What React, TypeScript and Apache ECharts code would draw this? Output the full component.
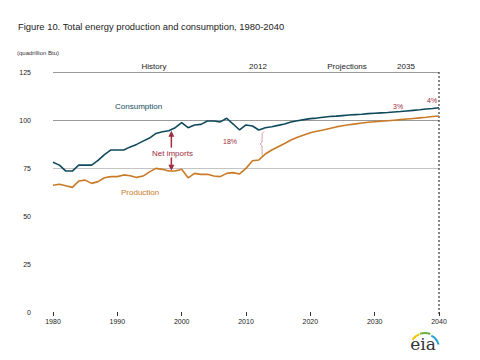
import React, { useEffect, useRef } from "react";
import * as echarts from "echarts";

const histYears = [1980,1981,1982,1983,1984,1985,1986,1987,1988,1989,1990,1991,1992,1993,1994,1995,1996,1997,1998,1999,2000,2001,2002,2003,2004,2005,2006,2007,2008,2009,2010,2011,2012];
const projYears = [2013,2014,2015,2016,2017,2018,2019,2020,2021,2022,2023,2024,2025,2026,2027,2028,2029,2030,2031,2032,2033,2034,2035,2036,2037,2038,2039,2040];

const consumptionHist = [78.0,76.5,73.4,73.4,76.5,76.5,76.5,79.0,82.0,84.4,84.4,84.4,86.0,87.3,89.0,90.6,93.0,93.9,94.4,96.0,98.6,96.0,97.4,97.7,99.5,99.5,99.0,100.9,97.9,94.8,97.4,96.9,94.8];
const consumptionProj = [96.0,96.5,97.2,97.9,99.0,99.6,100.2,100.7,101.0,101.4,101.8,102.0,102.3,102.6,102.8,103.0,103.3,103.5,103.7,103.9,104.2,104.4,104.7,105.0,105.3,105.7,106.0,106.4];

const productionHist = [66.0,66.5,65.8,64.9,68.2,68.7,67.0,67.9,69.9,70.5,70.5,71.4,71.0,70.1,70.8,73.0,74.8,74.3,73.4,73.4,74.3,69.9,72.2,71.7,71.7,70.8,70.5,72.2,72.6,71.9,74.8,78.8,79.2];
const productionProj = [82.3,84.4,86.1,87.8,89.6,91.0,92.2,93.4,94.1,94.8,95.6,96.4,97.0,97.5,98.0,98.4,98.8,99.1,99.4,99.6,99.9,100.2,100.5,100.8,101.1,101.4,101.8,102.1];

const yTicks = [0, 25, 50, 75, 100, 125];
const xTicks = [1980, 1990, 2000, 2010, 2020, 2030, 2040];

const FONT = "Liberation Sans, Arial, sans-serif";
const CONS_COLOR = "#0f4a5c";
const PROD_COLOR = "#c97a26";
const RED = "#a02c40";

export default function App() {
  const ref = useRef<HTMLDivElement>(null);

  useEffect(() => {
    if (!ref.current) return;
    document.body.style.margin = "0";
    const chart = echarts.init(ref.current, null, { renderer: "svg" });
    const years = histYears.concat(projYears);
    const cons = consumptionHist.concat(consumptionProj);
    const prod = productionHist.concat(productionProj);

    chart.setOption({
      animation: false,
      grid: { left: 53, right: 41, top: 72, bottom: 48 },
      xAxis: {
        type: "value",
        min: xTicks[0],
        max: xTicks[xTicks.length - 1],
        interval: 10,
        axisLine: {
          show: true,
          lineStyle: {
            width: 1.5,
            color: new echarts.graphic.LinearGradient(0, 0, 1, 0, [
              { offset: 0, color: "#333" },
              { offset: 0.5, color: "#999" },
              { offset: 1, color: "#f0f0f0" },
            ]),
          },
        },
        axisTick: { show: true, length: 4, lineStyle: { color: "#333" } },
        axisLabel: {
          color: "#222",
          fontSize: 7,
          fontFamily: FONT,
          margin: 6,
          formatter: (v: number) => String(v),
        },
        splitLine: { show: false },
      },
      yAxis: {
        type: "value",
        min: yTicks[0],
        max: yTicks[yTicks.length - 1],
        interval: 25,
        axisLine: { show: false },
        axisTick: { show: false },
        axisLabel: { color: "#222", fontSize: 7, fontFamily: FONT, margin: 22 },
        splitLine: {
          show: true,
          lineStyle: {
            width: 1,
            color: ["rgba(0,0,0,0)", "rgba(0,0,0,0)", "rgba(0,0,0,0)", "#c4c4c4", "#9a9a9a", "#9a9a9a"],
          },
        },
      },
      series: [
        {
          name: "Production",
          type: "line",
          data: years.map((y, i) => [y, prod[i]]),
          showSymbol: false,
          lineStyle: { color: PROD_COLOR, width: 1.6 },
          z: 3,
        },
        {
          name: "Consumption",
          type: "line",
          data: years.map((y, i) => [y, cons[i]]),
          showSymbol: false,
          lineStyle: { color: CONS_COLOR, width: 1.6 },
          z: 4,
        },
      ],
    });

    const px = (x: number, y: number) => chart.convertToPixel({ gridIndex: 0 }, [x, y]) as number[];
    const [x2040, yTop] = px(2040, 125);
    const [, y0] = px(2040, 0);
    const arrowX = px(1998.4, 0)[0];
    const aTop = px(1998.4, 94.4)[1];
    const aTopEnd = px(1998.4, 85.6)[1];
    const aBotStart = px(1998.4, 80.5)[1];
    const aBot = px(1998.4, 73.6)[1];
    const bx = px(2012.5, 0)[0];
    const b1 = px(2012.5, 94.0)[1];
    const bm = px(2012.5, 87.5)[1];
    const b2 = px(2012.5, 80.8)[1];

    const txt = (x: number, y: number, text: string, color: string, size: number, align = "left") => ({
      type: "text",
      x,
      y,
      style: {
        text,
        fill: color,
        fontSize: size,
        fontFamily: FONT,
        align,
        verticalAlign: "middle",
      },
    });

    chart.setOption({
      graphic: [
        txt(18, 26, "Figure 10. Total energy production and consumption, 1980-2040", "#222", 9.4),
        txt(17, 53, "(quadrillion Btu)", "#333", 6),
        txt(154, 66, "History", "#222", 8, "center"),
        txt(258, 66, "2012", "#222", 8, "center"),
        txt(347, 66, "Projections", "#222", 8, "center"),
        txt(406, 66, "2035", "#222", 8, "center"),
        txt(115, 106, "Consumption", CONS_COLOR, 8),
        txt(121, 192, "Production", PROD_COLOR, 8),
        txt(152, 153, "Net imports", RED, 8),
        txt(223, 141, "18%", RED, 7),
        txt(393, 106, "3%", RED, 7),
        txt(427, 100, "4%", RED, 7),
        {
          type: "line",
          shape: { x1: x2040, y1: yTop, x2: x2040, y2: y0 + 3 },
          style: { stroke: "#111", lineWidth: 1, lineDash: [2, 2] },
        },
        {
          type: "line",
          shape: { x1: arrowX, y1: aTop + 4, x2: arrowX, y2: aTopEnd },
          style: { stroke: RED, lineWidth: 1.5 },
        },
        {
          type: "polygon",
          shape: { points: [[arrowX, aTop], [arrowX - 3, aTop + 6], [arrowX + 3, aTop + 6]] },
          style: { fill: RED },
        },
        {
          type: "line",
          shape: { x1: arrowX, y1: aBotStart, x2: arrowX, y2: aBot - 4 },
          style: { stroke: RED, lineWidth: 1.5 },
        },
        {
          type: "polygon",
          shape: { points: [[arrowX, aBot], [arrowX - 3, aBot - 6], [arrowX + 3, aBot - 6]] },
          style: { fill: RED },
        },
        {
          type: "polyline",
          shape: {
            points: [
              [bx + 2, b1], [bx, b1 + 2], [bx, bm - 2], [bx - 2, bm], [bx, bm + 2], [bx, b2 - 2], [bx + 2, b2],
            ],
          },
          style: { stroke: "#d6a2ac", lineWidth: 1, fill: "none" },
        },
        {
          type: "text",
          x: 423,
          y: 344,
          style: {
            text: "eia",
            fill: "#333",
            fontSize: 17,
            fontFamily: "DejaVu Serif, Liberation Serif, serif",
            align: "center",
            verticalAlign: "middle",
          },
        },
        {
          type: "arc",
          shape: { cx: 425, cy: 348, r: 15, startAngle: -2.55, endAngle: -1.95 },
          style: { stroke: "#f2c500", lineWidth: 2, fill: "none" },
        },
        {
          type: "arc",
          shape: { cx: 425, cy: 348, r: 15, startAngle: -1.9, endAngle: -1.2 },
          style: { stroke: "#6cb33f", lineWidth: 2, fill: "none" },
        },
        {
          type: "arc",
          shape: { cx: 425, cy: 348, r: 14, startAngle: -1.1, endAngle: -0.25 },
          style: { stroke: "#2a9fd8", lineWidth: 2, fill: "none" },
        },
      ],
    });

    return () => chart.dispose();
  }, []);

  return <div ref={ref} style={{ width: 480, height: 360 }} />;
}
